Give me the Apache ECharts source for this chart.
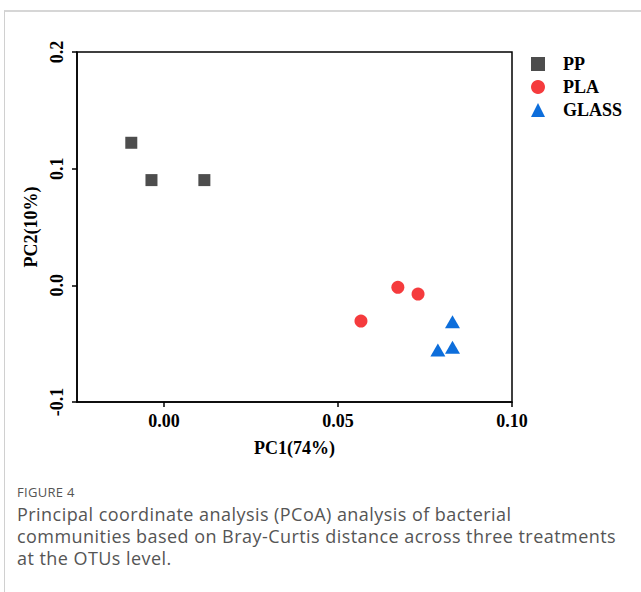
<!DOCTYPE html>
<html>
<head>
<meta charset="utf-8">
<script src="https://cdn.jsdelivr.net/npm/echarts@6/dist/echarts.min.js"></script>
<style>
  html, body { margin: 0; padding: 0; background: #fff; }
  #wrap { position: relative; width: 641px; height: 592px; overflow: hidden; }
  #frame { position: absolute; left: 4px; top: 10px; width: 700px; height: 700px;
           border-top: 2px solid #d6d6d6; border-left: 1px solid #d0d0d0; }
  #chart { position: absolute; left: 0; top: 0; width: 641px; height: 470px; }
  .cap { position: absolute; left: 17px; font-family: "Open Sans", sans-serif; color: #555; }
  #figno { top: 483px; font-size: 13px; letter-spacing: 0.3px; }
  #captext { top: 503px; font-size: 18px; line-height: 22px; letter-spacing: 0.45px; width: 630px; }
</style>
</head>
<body>
<div id="wrap">
  <div id="frame"></div>
  <div id="chart"></div>
  <div class="cap" id="figno">FIGURE 4</div>
  <div class="cap" id="captext">Principal coordinate analysis (PCoA) analysis of bacterial<br>communities based on Bray-Curtis distance across three treatments<br>at the OTUs level.</div>
</div>
<script>
// 各处理的 PCoA 坐标 [PC1, PC2]
var PP = [[-0.0094, 0.1222], [-0.0036, 0.0902], [0.0116, 0.0902]];
var PLA = [[0.0672, -0.0017], [0.0730, -0.0075], [0.0566, -0.0306]];
var GLASS = [[0.0829, -0.0312], [0.0787, -0.0554], [0.0829, -0.0531]];
// 坐标轴刻度
var X_TICKS = [0.00, 0.05, 0.10];
var Y_TICKS = [-0.1, 0.0, 0.1, 0.2];

var serif = '"Liberation Serif", "Times New Roman", serif';

var chart = echarts.init(document.getElementById('chart'), null, { renderer: 'svg' });
var option = {
    animation: false,
    grid: {
        left: 77,
        top: 52,
        width: 435,
        height: 350,
        show: true,
        borderColor: '#000',
        borderWidth: 1.5,
        backgroundColor: 'transparent'
    },
    legend: {
        orient: 'vertical',
        left: 526,
        top: 50,
        itemWidth: 14,
        itemHeight: 14,
        itemGap: 5,
        data: ['PP', 'PLA', 'GLASS'],
        textStyle: {
            fontFamily: serif,
            fontWeight: 'bold',
            fontSize: 18,
            color: '#000',
            padding: [0, 0, 0, 13]
        }
    },
    xAxis: {
        type: 'value',
        min: -0.025,
        max: 0.10,
        name: 'PC1(74%)',
        nameLocation: 'middle',
        nameGap: 37,
        nameTextStyle: { fontFamily: serif, fontWeight: 'bold', fontSize: 18, color: '#000' },
        axisLine: { show: true, onZero: false, lineStyle: { color: '#000', width: 1.5 } },
        axisTick: { show: true, length: 5, customValues: X_TICKS, lineStyle: { color: '#000', width: 1.5 } },
        axisLabel: {
            customValues: X_TICKS,
            margin: 10,
            fontFamily: serif,
            fontWeight: 'bold',
            fontSize: 18,
            color: '#000',
            formatter: function (v) { return v.toFixed(2); }
        },
        splitLine: { show: false }
    },
    yAxis: {
        type: 'value',
        min: Y_TICKS[0],
        max: Y_TICKS[Y_TICKS.length - 1],
        interval: 0.1,
        name: 'PC2(10%)',
        nameLocation: 'middle',
        nameGap: 28,
        nameRotate: 90,
        nameTextStyle: { fontFamily: serif, fontWeight: 'bold', fontSize: 18, color: '#000' },
        axisLine: { show: true, onZero: false, lineStyle: { color: '#000', width: 1.5 } },
        axisTick: { show: true, length: 5, lineStyle: { color: '#000', width: 1.5 } },
        axisLabel: {
            rotate: 90,
            margin: 11,
            fontFamily: serif,
            fontWeight: 'bold',
            fontSize: 18,
            color: '#000',
            formatter: function (v) { return v.toFixed(1); }
        },
        splitLine: { show: false }
    },
    series: [{
        name: 'PP',
        type: 'scatter',
        symbol: 'rect',
        symbolSize: 12,
        itemStyle: { color: '#4d4d4d', opacity: 1 },
        data: PP
    }, {
        name: 'PLA',
        type: 'scatter',
        symbol: 'circle',
        symbolSize: 13,
        itemStyle: { color: '#f53b3d', opacity: 1 },
        data: PLA
    }, {
        name: 'GLASS',
        type: 'scatter',
        symbol: 'triangle',
        symbolSize: [15, 13],
        itemStyle: { color: '#0d6edb', opacity: 1 },
        data: GLASS
    }]
};
chart.setOption(option);
</script>
</body>
</html>
